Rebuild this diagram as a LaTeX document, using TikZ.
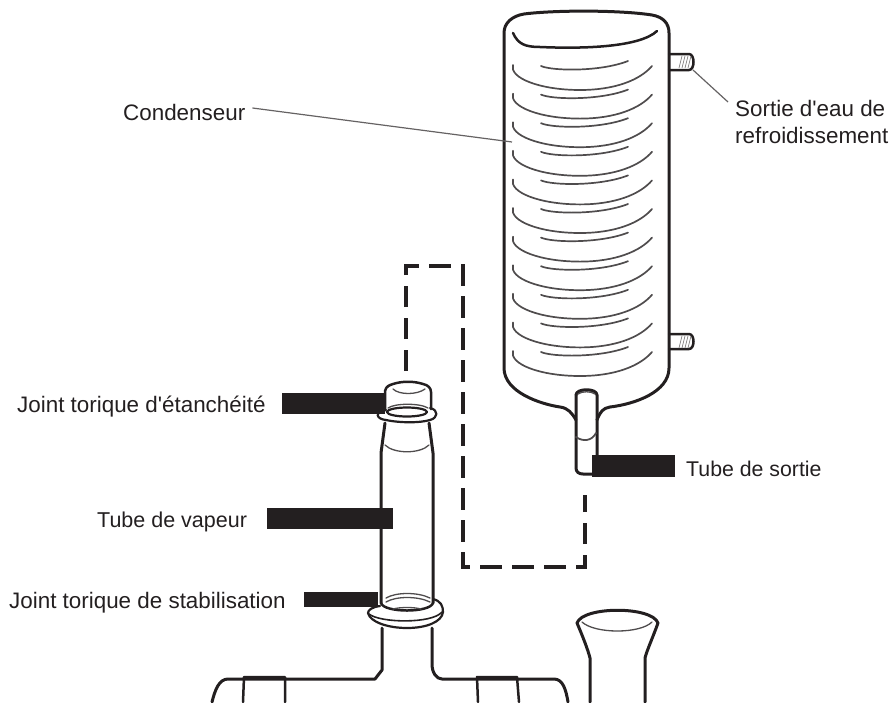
\documentclass[tikz,border=0pt]{standalone}
\usepackage{fontspec}
\newfontfamily\labelfont{Liberation Sans}
\definecolor{ink}{HTML}{231F20}
\tikzset{
  outline/.style={draw=ink,line width=3pt,line join=round,line cap=round},
  medline/.style={draw=ink,line width=2.5pt,line join=round,line cap=round},
  fine/.style={draw=ink!80,line width=1.3pt,line cap=round},
  thinline/.style={draw=ink!70,line width=1.2pt},
  coil/.style={draw=ink!80,line width=1.7pt,line cap=round},
  dashpath/.style={draw=ink,line width=3.6pt,dash pattern=on 21.5pt off 10.5pt},
  lbl/.style={inner sep=0pt,anchor=base west,text=ink,font=\labelfont\fontsize{22.4}{26.5}\selectfont,align=left},
  lblblock/.style={lbl,anchor=west},
  lblsmall/.style={lbl,font=\labelfont\fontsize{21.5}{26}\selectfont}
}
\begin{document}
\begin{tikzpicture}[x=1pt,y=-1pt]
\useasboundingbox (0,0) rectangle (893,702);
% dashed pipe
\draw[dashpath] (406,371) -- (406,266) -- (463,266) -- (463,567) -- (585,567) -- (585,495);
% condenser body
\draw[outline] (597,420) .. controls (600,412) and (603,408) .. (610,407) .. controls (635,404) and (669,392) .. (669,368)
  -- (669,33) .. controls (669,23) and (663,17) .. (652,15) .. controls (620,10) and (555,10) .. (524,14) .. controls (512,16) and (504,23) .. (504,33)
  -- (504,368) .. controls (504,392) and (540,404) .. (560,407) .. controls (568,408) and (572,413) .. (576,420);
% top meniscus
\draw[medline] (513,33) .. controls (518,44) and (525,47) .. (540,47) .. controls (585,49) and (640,47) .. (657,31);
% coils
\foreach \k in {0,...,10}{
  \begin{scope}[yshift=-28.6*\k pt]
    \draw[coil] (541,66) .. controls (552,71) and (600,72) .. (628,61);
    \draw[coil] (513,65) .. controls (509,78) and (540,90) .. (580,90) .. controls (615,90) and (640,80) .. (652,66);
  \end{scope}
}
% side tubes
\draw[medline] (669,54) -- (689,54) .. controls (695,54) and (695,70) .. (689,70) -- (669,70);
\draw[medline] (669,334) -- (689,334) .. controls (695,334) and (695,349) .. (689,349) -- (669,349);
\foreach \yy in {0,280}{
  \begin{scope}[yshift=-\yy pt]
  \foreach \xx in {681,684,687,690}{
    \draw[draw=ink!60,line width=0.7pt] (\xx+1,56) -- (\xx-2,68);
  }
  \end{scope}
}
% drain tube
\draw[outline] (576,395) .. controls (576,388) and (597,388) .. (597,395) -- (597,473);
\draw[outline] (576,395) -- (576,468) .. controls (576,472) and (579,474) .. (583,474) -- (597,474);
\draw[fine] (578,394) .. controls (582,391) and (591,391) .. (595,394);
\draw[fine,line width=1.8pt] (576,437) .. controls (583,442) and (592,441) .. (596,433);
% top cap
\draw[medline] (385,410) -- (385,391) .. controls (386,386) and (390,385) .. (393,384) .. controls (402,381) and (414,381) .. (423,384) .. controls (428,385) and (431,388) .. (431,392) -- (431,409);
\draw[fine] (393,389) .. controls (399,395) and (417,395) .. (425,389);
\draw[fine] (388,408) .. controls (395,403) and (420,403) .. (428,408);
% top flange
\draw[medline,line width=2.2pt] (407,412) ellipse [x radius=20,y radius=4.5];
\draw[medline,line width=2.2pt] (386,410) .. controls (374,412) and (376,419) .. (386,420) .. controls (400,423) and (420,423) .. (430,420) .. controls (438,418) and (439,410) .. (430,408);
% vapour tube
\draw[outline] (385,423) -- (381,453) -- (381,603);
\draw[outline] (429,423) -- (433,453) -- (433,603);
\draw[fine] (385,445) .. controls (394,454) and (420,454) .. (429,445);
\draw[fine] (386,598) .. controls (396,592) and (418,592) .. (430,598);
\draw[fine] (386,602) .. controls (396,596) and (418,596) .. (430,602);
% bottom flange
\draw[medline] (381,603) .. controls (384,613) and (430,613) .. (433,603);
\draw[fine] (393,609) .. controls (400,607) and (414,607) .. (421,609);
\draw[medline,line width=2.2pt] (380,606) .. controls (372,607) and (368,610) .. (368,613) .. controls (370,622) and (388,628) .. (407,628) .. controls (426,628) and (442,622) .. (443,612) .. controls (443,606) and (441,601) .. (433,599);
\draw[medline,line width=1.6pt] (369,614) .. controls (380,623) and (432,624) .. (442,612);
% flask neck
\draw[outline] (382,628) -- (382,670) -- (375,679) -- (228,679) .. controls (219,679) and (215,690) .. (212,702);
\draw[outline] (432,628) -- (432,664) .. controls (432,672) and (436,679) .. (442,679) -- (554,679) .. controls (563,679) and (566,690) .. (568,702);
\draw[medline] (243,702) -- (244,677) -- (285,677) -- (285,702);
\draw[medline] (478,702) -- (477,677) -- (517,677) -- (519,702);
% funnel
\draw[outline] (590,702) -- (590,658) .. controls (588,650) and (583,637) .. (577,623) .. controls (583,606) and (652,606) .. (658,623) .. controls (653,637) and (647,650) .. (645,658) -- (645,702);
\draw[fine] (582,622) .. controls (595,634) and (640,634) .. (652,622);
% leaders
\coordinate (condEnd) at (512,142);
\coordinate (sortEnd) at (693,70);
\coordinate (sortStart) at (728,102);
\coordinate (b1a) at (282,403.5); \coordinate (b1b) at (385,403.5);
\coordinate (b2a) at (267,518.5); \coordinate (b2b) at (393,518.5);
\coordinate (b3a) at (304,599.5); \coordinate (b3b) at (378,599.5);
\coordinate (b4a) at (592,466); \coordinate (b4b) at (675,466);
\node[lbl] (cond) at (123,120) {Condenseur};
\node[lblblock] (sort) at (735,122) {Sortie d'eau de\\refroidissement};
\node[lbl] (etan) at (17,412) {Joint torique d'étanchéité};
\node[lblsmall] (vap) at (97,527) {Tube de vapeur};
\node[lbl] (stab) at (9,608) {Joint torique de stabilisation};
\node[lblsmall,font=\labelfont\fontsize{21.3}{26}\selectfont] (sortie) at (686,476) {Tube de sortie};
\draw[thinline] (cond.east) ++(7,-4) -- (condEnd);
\draw[thinline] (sortEnd) -- (sortStart);
\draw[draw=ink,line width=21pt] (b1a) -- (b1b);
\draw[draw=ink,line width=21pt] (b2a) -- (b2b);
\draw[draw=ink,line width=15pt] (b3a) -- (b3b);
\draw[draw=ink,line width=22pt] (b4a) -- (b4b);
\end{tikzpicture}
\end{document}
